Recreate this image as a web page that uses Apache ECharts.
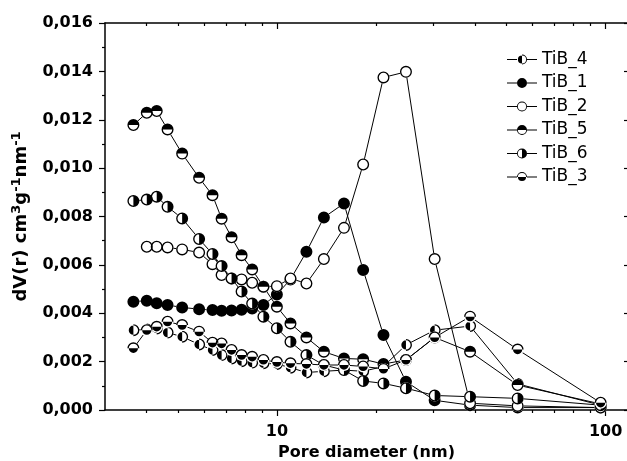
<!DOCTYPE html>
<html>
<head>
<meta charset="utf-8">
<script src="https://cdn.jsdelivr.net/npm/echarts@6/dist/echarts.min.js"></script>
<style>
  html, body { margin: 0; padding: 0; background: #fff; }
  #chart { width: 627px; height: 461px; }
</style>
</head>
<body>
<div id="chart"></div>
<script>
// pore diameters (nm), shared by all samples
const poreDiam = [3.66, 4.02, 4.31, 4.65, 5.15, 5.8, 6.37, 6.79, 7.28, 7.81, 8.41, 9.1, 10.0, 11.0, 12.3, 13.9, 16.0, 18.3, 21.1, 24.7, 30.2, 38.7, 54.0, 96.6];

// dV(r) values
const tib4 = [0.0033, 0.00333, 0.00337, 0.0032, 0.00303, 0.00271, 0.00248, 0.00227, 0.00213, 0.00202, 0.00196, 0.00193, 0.0019, 0.00175, 0.00155, 0.0016, 0.00165, 0.0016, 0.0018, 0.00269, 0.0033, 0.00347, 0.00108, 0.0002];
const tib1 = [0.00448, 0.00452, 0.00441, 0.00434, 0.00424, 0.00417, 0.00413, 0.0041, 0.00411, 0.00414, 0.0042, 0.00434, 0.00478, 0.0054, 0.00654, 0.00796, 0.00854, 0.00579, 0.0031, 0.00117, 0.0004, 0.0002, 0.0001, 0.0001];
const tib2 = [null, 0.00675, 0.00675, 0.00672, 0.00664, 0.00651, 0.00603, 0.00558, 0.00544, 0.0054, 0.00526, 0.0051, 0.00512, 0.00544, 0.00523, 0.00624, 0.00753, 0.01015, 0.01375, 0.01398, 0.00624, 0.00028, 0.00017, 0.0001];
const tib5 = [0.01178, 0.01229, 0.01236, 0.0116, 0.0106, 0.0096, 0.00888, 0.00791, 0.00714, 0.0064, 0.00581, 0.0051, 0.00427, 0.00358, 0.003, 0.00241, 0.00213, 0.0021, 0.0019, 0.00207, 0.003, 0.00241, 0.00103, 0.00025];
const tib6 = [0.00864, 0.0087, 0.00882, 0.0084, 0.00792, 0.00707, 0.00645, 0.00595, 0.00544, 0.0049, 0.0044, 0.00386, 0.00338, 0.00282, 0.00227, 0.00186, 0.00165, 0.0012, 0.0011, 0.0009, 0.0006, 0.00055, 0.00048, 0.0002];
const tib3 = [0.00255, 0.0033, 0.00344, 0.00365, 0.00351, 0.00324, 0.00278, 0.00275, 0.00248, 0.00227, 0.0022, 0.00207, 0.00198, 0.00193, 0.0019, 0.00186, 0.00186, 0.0018, 0.0017, 0.00207, 0.003, 0.00386, 0.0025, 0.0003];

const xMajorTicks = [10, 100];
const xMinorTicks = [4, 5, 6, 7, 8, 9, 20, 30, 40, 50, 60, 70, 80, 90];

// marker fills: which half of the circle is black
const samples = [
  { name: 'TiB_4', values: tib4, fill: 'left' },
  { name: 'TiB_1', values: tib1, fill: 'full' },
  { name: 'TiB_2', values: tib2, fill: 'none' },
  { name: 'TiB_5', values: tib5, fill: 'top' },
  { name: 'TiB_6', values: tib6, fill: 'right' },
  { name: 'TiB_3', values: tib3, fill: 'bottom' }
];

// circle / half disk paths built from quarter arcs (no diameter arcs)
function arcs(pts, r, sweep) {
  return pts.slice(1).map(p => `A${r},${r} 0 0,${sweep} ${p[0]},${p[1]}`).join(' ');
}
function circlePath(cx, cy, r, sweep) {
  const L = [cx - r, cy], T = [cx, cy - r], R = [cx + r, cy], B = [cx, cy + r];
  const pts = sweep ? [L, T, R, B, L] : [L, B, R, T, L];
  return `M${L[0]},${L[1]} ` + arcs(pts, r, sweep) + ' Z';
}
function halfPath(fill, cx, cy, r) {
  const L = [cx - r, cy], T = [cx, cy - r], R = [cx + r, cy], B = [cx, cy + r];
  let pts, sweep;
  switch (fill) {
    case 'left': pts = [T, L, B]; sweep = 0; break;
    case 'right': pts = [T, R, B]; sweep = 1; break;
    case 'top': pts = [L, T, R]; sweep = 1; break;
    case 'bottom': pts = [L, B, R]; sweep = 0; break;
    case 'full': return circlePath(cx, cy, r, 1);
    default: return '';
  }
  return `M${pts[0][0]},${pts[0][1]} ` + arcs(pts, r, sweep) + ' Z';
}
function ringPath(cx, cy, ro, ri) {
  return circlePath(cx, cy, ro, 1) + ' ' + circlePath(cx, cy, ri, 0);
}
function markerPath(fill) {
  return 'path://' + ringPath(12, 12, 12, 9.3) + ' ' + halfPath(fill, 12, 12, 12);
}
function legendPath(fill) {
  return 'path://M0,4.5 L10,4.5 L10,5.5 L0,5.5 Z M20,4.5 L30,4.5 L30,5.5 L20,5.5 Z ' +
    ringPath(15, 5, 5, 4.1) + ' ' + halfPath(fill, 15, 5, 5);
}

const series = [];
samples.forEach(function (s) {
  series.push({
    name: s.name, type: 'line', xAxisIndex: 0, yAxisIndex: 0,
    data: poreDiam.map((d, i) => [d, s.values[i]]),
    symbol: 'none', itemStyle: { color: '#000' },
    lineStyle: { color: '#000', width: 1 }, z: 2, silent: true
  });
});
samples.forEach(function (s, k) {
  const pts = poreDiam.map((d, i) => [d, s.values[i]]).filter(p => p[1] != null);
  series.push({
    name: s.name + ' bg', type: 'scatter', data: pts, symbol: 'circle', symbolSize: 12,
    itemStyle: { color: '#fff', opacity: 1 }, z: 3 + 2 * k, silent: true
  });
  series.push({
    name: s.name + ' mk', type: 'scatter', data: pts, symbol: markerPath(s.fill), symbolSize: 12,
    itemStyle: { color: '#000', opacity: 1 }, z: 4 + 2 * k, silent: true
  });
});

const axisFont = { fontFamily: 'DejaVu Sans', fontWeight: 'bold', fontSize: 16, color: '#000' };
const blackLine = { color: '#000', width: 1.5 };

function xLogAxis(pos, ticks, len, inside, labels, showLine) {
  return {
    type: 'log', min: 3, max: 117, position: pos,
    axisLine: { show: showLine, lineStyle: blackLine },
    axisTick: { customValues: ticks, length: len, inside: inside, lineStyle: { color: '#000', width: 1.2 } },
    axisLabel: labels ? Object.assign({ customValues: ticks, margin: 14 }, axisFont) : { show: false },
    splitLine: { show: false }, minorTick: { show: false }
  };
}

const option = {
  animation: false,
  backgroundColor: '#fff',
  grid: { left: 105, top: 23, width: 523, height: 387, outerBoundsMode: 'none', containLabel: false },
  legend: {
    orient: 'vertical', left: 502, top: 46,
    itemWidth: 30, itemHeight: 10, itemGap: 6.5,
    textStyle: { fontFamily: 'DejaVu Sans', fontSize: 17, color: '#000' },
    data: samples.map(s => ({ name: s.name, icon: legendPath(s.fill) }))
  },
  xAxis: [
    Object.assign(xLogAxis('bottom', xMajorTicks, 6, false, true, true), {
      name: 'Pore diameter (nm)', nameLocation: 'middle', nameGap: 34,
      nameTextStyle: axisFont
    }),
    xLogAxis('bottom', xMinorTicks, 3, false, false, false),
    xLogAxis('top', xMajorTicks, 6, true, false, true),
    xLogAxis('top', xMinorTicks, 3, true, false, false)
  ],
  yAxis: [
    {
      type: 'value', position: 'left', min: 0, max: 0.016, interval: 0.002,
      axisLine: { show: true, lineStyle: blackLine },
      axisTick: { length: 6, lineStyle: { color: '#000', width: 1.2 } },
      minorTick: { show: true, splitNumber: 2, length: 3, lineStyle: { color: '#000', width: 1.2 } },
      axisLabel: Object.assign({ margin: 12, formatter: v => v.toFixed(3).replace('.', ',') }, axisFont),
      splitLine: { show: false },
      name: 'dV(r) cm{sup|3}g{sup|-1}nm{sup|-1}', nameLocation: 'middle', nameGap: 73, nameRotate: 90,
      nameTextStyle: Object.assign({}, axisFont, {
        fontSize: 18,
        rich: { sup: { fontFamily: 'DejaVu Sans', fontWeight: 'bold', fontSize: 13, padding: [0, 0, 9, 0], color: '#000' } }
      })
    },
    {
      type: 'value', position: 'right', min: 0, max: 0.016, interval: 0.002,
      axisLine: { show: true, lineStyle: blackLine },
      axisTick: { inside: true, length: 4, lineStyle: { color: '#000', width: 1.2 } },
      axisLabel: { show: false }, splitLine: { show: false }
    }
  ],
  series: series
};

const chart = echarts.init(document.getElementById('chart'));
chart.setOption(option);
</script>
</body>
</html>
